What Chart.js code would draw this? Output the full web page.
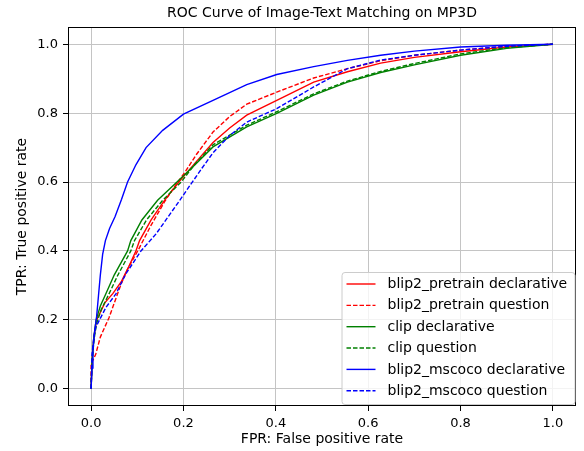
<!DOCTYPE html>
<html>
<head>
<meta charset="utf-8">
<script src="https://cdn.jsdelivr.net/npm/chart.js@4.4.0/dist/chart.umd.min.js"></script>
<style>
  html, body { margin: 0; padding: 0; background: #fff; }
</style>
</head>
<body>
<canvas id="js--roc" width="584" height="451"></canvas>
<script>
// ROC curve points (FPR on x, TPR on y)
const pretrainDeclFpr = [0, 0.002, 0.006, 0.012, 0.03, 0.047, 0.065, 0.08, 0.097, 0.105, 0.13, 0.159, 0.19, 0.225, 0.264, 0.3, 0.337, 0.402, 0.482, 0.555, 0.627, 0.7, 0.8, 0.9, 1];
const pretrainDeclTpr = [0, 0.08, 0.15, 0.2, 0.25, 0.276, 0.31, 0.35, 0.4, 0.43, 0.49, 0.547, 0.6, 0.655, 0.715, 0.757, 0.794, 0.837, 0.89, 0.92, 0.945, 0.962, 0.978, 0.992, 1];

const pretrainQuesFpr = [0, 0, 0.003, 0.01, 0.02, 0.039, 0.065, 0.08, 0.101, 0.13, 0.16, 0.185, 0.203, 0.228, 0.264, 0.3, 0.337, 0.402, 0.482, 0.555, 0.627, 0.7, 0.8, 0.9, 1];
const pretrainQuesTpr = [0, 0.07, 0.08, 0.1, 0.15, 0.207, 0.304, 0.35, 0.4, 0.475, 0.545, 0.595, 0.628, 0.68, 0.745, 0.79, 0.826, 0.861, 0.902, 0.929, 0.952, 0.968, 0.983, 0.994, 1];

const clipDeclFpr = [0, 0.002, 0.006, 0.011, 0.02, 0.032, 0.05, 0.079, 0.086, 0.11, 0.144, 0.19, 0.225, 0.264, 0.337, 0.402, 0.482, 0.555, 0.627, 0.7, 0.8, 0.9, 1];
const clipDeclTpr = [0, 0.08, 0.15, 0.2, 0.24, 0.276, 0.33, 0.4, 0.43, 0.49, 0.547, 0.605, 0.65, 0.702, 0.76, 0.799, 0.852, 0.89, 0.918, 0.94, 0.968, 0.988, 1];

const clipQuesFpr = [0, 0.002, 0.006, 0.012, 0.022, 0.039, 0.058, 0.086, 0.094, 0.12, 0.155, 0.195, 0.225, 0.264, 0.337, 0.402, 0.482, 0.555, 0.627, 0.7, 0.8, 0.9, 1];
const clipQuesTpr = [0, 0.07, 0.14, 0.19, 0.23, 0.276, 0.33, 0.4, 0.43, 0.49, 0.547, 0.6, 0.652, 0.708, 0.765, 0.804, 0.856, 0.893, 0.921, 0.944, 0.972, 0.99, 1];

const mscocoDeclFpr = [0, 0.002, 0.004, 0.008, 0.012, 0.016, 0.02, 0.025, 0.031, 0.04, 0.052, 0.066, 0.079, 0.097, 0.119, 0.155, 0.2, 0.264, 0.337, 0.402, 0.482, 0.555, 0.627, 0.7, 0.8, 0.9, 1];
const mscocoDeclTpr = [0, 0.06, 0.11, 0.17, 0.21, 0.27, 0.33, 0.39, 0.43, 0.465, 0.5, 0.55, 0.6, 0.65, 0.7, 0.75, 0.797, 0.837, 0.883, 0.912, 0.935, 0.953, 0.968, 0.98, 0.992, 0.997, 1];

const mscocoQuesFpr = [0, 0.002, 0.006, 0.01, 0.032, 0.054, 0.075, 0.108, 0.141, 0.192, 0.214, 0.24, 0.264, 0.3, 0.337, 0.402, 0.482, 0.555, 0.627, 0.7, 0.8, 0.9, 1];
const mscocoQuesTpr = [0, 0.1, 0.15, 0.178, 0.236, 0.276, 0.333, 0.4, 0.45, 0.547, 0.59, 0.64, 0.685, 0.735, 0.774, 0.813, 0.876, 0.929, 0.954, 0.968, 0.983, 0.994, 1];

const seriesNames = [
  'blip2_pretrain declarative',
  'blip2_pretrain question',
  'clip declarative',
  'clip question',
  'blip2_mscoco declarative',
  'blip2_mscoco question'
];
const seriesColors = ['#ff0000', '#ff0000', '#008000', '#008000', '#0000ff', '#0000ff'];
const seriesDashed = [false, true, false, true, false, true];

const tickValues = [0, 0.2, 0.4, 0.6, 0.8, 1.0];

const chartTitle = 'ROC Curve of Image-Text Matching on MP3D';
const xTitle = 'FPR: False positive rate';
const yTitle = 'TPR: True positive rate';

const fprs = [pretrainDeclFpr, pretrainQuesFpr, clipDeclFpr, clipQuesFpr, mscocoDeclFpr, mscocoQuesFpr];
const tprs = [pretrainDeclTpr, pretrainQuesTpr, clipDeclTpr, clipQuesTpr, mscocoDeclTpr, mscocoQuesTpr];

const FONT = 'DejaVu Sans';
const DASH = [4.5, 2];

const datasets = seriesNames.map(function(name, i){
  return {
    label: name,
    data: fprs[i].map((x, j) => ({ x: x, y: tprs[i][j] })),
    borderColor: seriesColors[i],
    backgroundColor: seriesColors[i],
    borderWidth: 1.4,
    borderDash: seriesDashed[i] ? DASH : [],
    pointRadius: 0,
    tension: 0,
    fill: false,
    order: seriesNames.length - i   // later series on top, like matplotlib
  };
});

// title centred over the plot area
const titlePlugin = {
  id: 'plotTitle',
  afterDraw(chart){
    const ctx = chart.ctx;
    const area = chart.chartArea;
    ctx.save();
    ctx.font = '14px "' + FONT + '"';
    ctx.fillStyle = '#000';
    ctx.textAlign = 'center';
    ctx.textBaseline = 'middle';
    ctx.fillText(chartTitle, (area.left + area.right) / 2, 13);
    ctx.restore();
  }
};

// box around the axes, all four spines
const framePlugin = {
  id: 'frame',
  afterDatasetsDraw(chart){
    const ctx = chart.ctx;
    const a = chart.chartArea;
    ctx.save();
    ctx.strokeStyle = '#000';
    ctx.lineWidth = 1;
    ctx.strokeRect(Math.round(a.left) + 0.5, Math.round(a.top) + 0.5, Math.round(a.right - a.left) - 1, Math.round(a.bottom - a.top) - 1);
    ctx.restore();
  }
};

// legend in the lower right corner, inside the axes
const legendPlugin = {
  id: 'innerLegend',
  afterDatasetsDraw(chart){
    const ctx = chart.ctx;
    const a = chart.chartArea;
    const w = 233, h = 132;
    const x0 = a.right - 1.5 - w;
    const y0 = a.bottom - 2 - h;
    const rowH = 21.35;
    ctx.save();
    ctx.beginPath();
    ctx.roundRect(x0 + 0.5, y0 + 0.5, w, h, 3);
    ctx.fillStyle = 'rgba(255,255,255,0.8)';
    ctx.fill();
    ctx.strokeStyle = '#cccccc';
    ctx.lineWidth = 1;
    ctx.stroke();

    ctx.font = '14px "' + FONT + '"';
    ctx.textBaseline = 'middle';
    ctx.textAlign = 'left';
    seriesNames.forEach(function(name, i){
      const y = y0 + 12 + i * rowH;
      ctx.beginPath();
      ctx.setLineDash(seriesDashed[i] ? DASH : []);
      ctx.strokeStyle = seriesColors[i];
      ctx.lineWidth = 1.4;
      ctx.moveTo(x0 + 5, y);
      ctx.lineTo(x0 + 34, y);
      ctx.stroke();
      ctx.setLineDash([]);
      ctx.fillStyle = '#000';
      ctx.fillText(name, x0 + 46, y + 0.5);
    });
    ctx.restore();
  }
};

const axisCommon = {
  type: 'linear',
  min: -0.05,
  max: 1.05,
  afterBuildTicks: function(scale){
    scale.ticks = tickValues.map(v => ({ value: v }));
  },
  grid: {
    color: '#c4c4c4',
    lineWidth: 1,
    drawTicks: true,
    tickLength: 5,
    tickColor: '#000',
    tickWidth: 1
  },
  border: { display: false }
};

const config = {
  type: 'line',
  data: { datasets: datasets },
  options: {
    responsive: false,
    animation: false,
    parsing: true,
    layout: { padding: { top: 27, right: 8, left: 0, bottom: 0 } },
    plugins: {
      legend: { display: false },
      title: { display: false },
      tooltip: { enabled: false }
    },
    scales: {
      x: Object.assign({}, axisCommon, {
        position: 'bottom',
        afterFit: function(scale){ scale.height = 45; },
        ticks: {
          color: '#000',
          font: { family: FONT, size: 13 },
          padding: 5,
          maxRotation: 0,
          callback: v => v.toFixed(1)
        },
        title: {
          display: true,
          text: xTitle,
          color: '#000',
          font: { family: FONT, size: 14 },
          padding: { top: 0, bottom: 3 }
        }
      }),
      y: Object.assign({}, axisCommon, {
        position: 'left',
        afterFit: function(scale){ scale.width = 68; },
        ticks: {
          color: '#000',
          font: { family: FONT, size: 13 },
          padding: 5,
          callback: v => v.toFixed(1)
        },
        title: {
          display: true,
          text: yTitle,
          color: '#000',
          font: { family: FONT, size: 14 },
          padding: { top: 14, bottom: 0 }
        }
      })
    }
  },
  plugins: [framePlugin, legendPlugin, titlePlugin]
};

const rocChart = new Chart(document.getElementById('js--roc'), config);
</script>
</body>
</html>
